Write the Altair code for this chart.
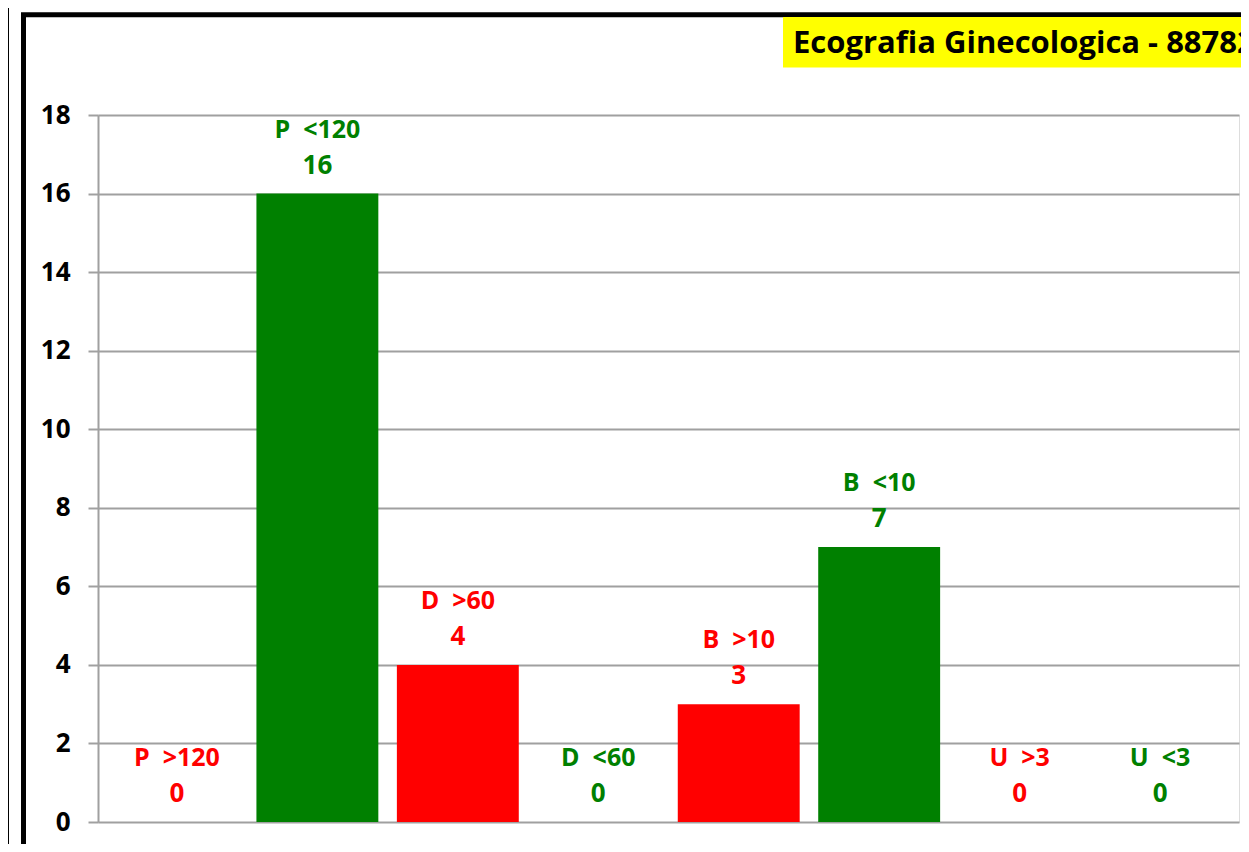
import altair as alt
import pandas as pd

categories = ["P\u00a0\u00a0>120", "P\u00a0\u00a0<120", "D\u00a0\u00a0>60", "D\u00a0\u00a0<60",
              "B\u00a0\u00a0>10", "B\u00a0\u00a0<10", "U\u00a0\u00a0>3", "U\u00a0\u00a0<3"]
values = [0, 16, 4, 0, 3, 7, 0, 0]
bar_colors = ["#ff0000", "#008000", "#ff0000", "#008000", "#ff0000", "#008000", "#ff0000", "#008000"]
y_ticks = [0, 2, 4, 6, 8, 10, 12, 14, 16, 18]
title_text = "Ecografia Ginecologica - 88782"

df = pd.DataFrame({"cat": categories, "val": values, "col": bar_colors})

FONT = "Open Sans"

x_enc = alt.X("cat:N", sort=categories, axis=None,
              scale=alt.Scale(paddingInner=0.132, paddingOuter=0.128))
y_enc = alt.Y("val:Q", scale=alt.Scale(domain=[0, 18]),
              axis=alt.Axis(values=y_ticks, title=None, grid=True,
                            gridColor="#a0a0a0", gridWidth=2,
                            domainColor="#a0a0a0", domainWidth=2,
                            tickColor="#a0a0a0", tickWidth=2, tickSize=10,
                            labelFont=FONT, labelFontSize=26, labelFontWeight="bold",
                            labelColor="#000000", labelPadding=18))
color_enc = alt.Color("col:N", scale=None, legend=None)

base = alt.Chart(df)

bars = base.mark_bar().encode(x=x_enc, y=y_enc, color=color_enc)

val_text = base.mark_text(font=FONT, fontSize=26, fontWeight="bold", baseline="middle",
                          align="center", dy=-28).encode(
    x=x_enc, y=alt.Y("val:Q"), text=alt.Text("val:Q"), color=color_enc)

name_text = base.mark_text(font=FONT, fontSize=25, fontWeight="bold", baseline="middle",
                           align="center", dy=-64).encode(
    x=x_enc, y=alt.Y("val:Q"), text=alt.Text("cat:N"), color=color_enc)

frame = alt.Chart(pd.DataFrame({"k": [0]})).mark_rect(
    fill="#ffffff", fillOpacity=0, stroke="#000000", strokeWidth=5).encode(
    x=alt.value(-74.5), x2=alt.value(1300), y=alt.value(-100.2), y2=alt.value(736.5))

left_line = alt.Chart(pd.DataFrame({"k": [0]})).mark_rule(
    color="#000000", strokeWidth=2).encode(
    x=alt.value(-90), y=alt.value(-120), y2=alt.value(760))

title_box = alt.Chart(pd.DataFrame({"k": [0]})).mark_rect(
    fill="#ffff00").encode(
    x=alt.value(685), x2=alt.value(1300), y=alt.value(-98), y2=alt.value(-47.5))

title_mark = alt.Chart(pd.DataFrame({"t": [title_text]})).mark_text(
    font=FONT, fontSize=31, fontWeight="bold", align="left", baseline="alphabetic",
    color="#000000").encode(
    x=alt.value(695), y=alt.value(-62), text="t:N")

chart = alt.layer(left_line, frame, title_box, title_mark, bars, val_text, name_text).properties(
    width=1141, height=707,
    autosize=alt.AutoSizeParams(type="none"),
    padding={"left": 90, "top": 107, "right": 2, "bottom": 22},
).configure_view(stroke=None).configure(background="#ffffff")

chart.save("out.html", embed_options={"renderer": "svg", "actions": False})
